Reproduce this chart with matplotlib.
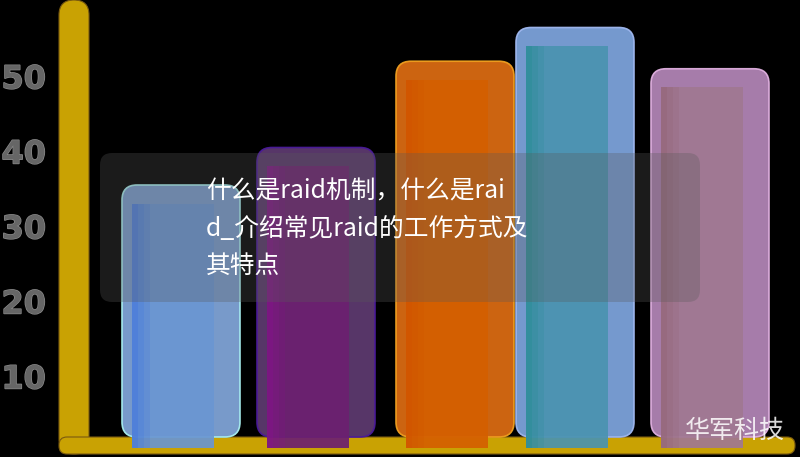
import matplotlib
matplotlib.use("Agg")
import matplotlib.pyplot as plt
from matplotlib.patches import FancyBboxPatch
import matplotlib.patheffects as pe

# data
values = [36, 41, 52.5, 57, 51.5]
ticks = [10, 20, 30, 40, 50]
title_lines = ["什么是raid机制，什么是rai", "d_介绍常见raid的工作方式及", "其特点"]
watermark = "华军科技"

# layout / style (pixel x positions, value y units: 75 px per 10)
centers = [181, 316, 455, 575, 710]
outer_w = 118
inner_w = 82
inner_shift = -8
outer_colors = ["#7fa3d6", "#5d3a6e", "#d86a12", "#7ca2da", "#b084b4"]
edge_colors = ["#a8f0f0", "#4a1a9a", "#f0a020", "#a0b8f0", "#e0b0e0"]
inner_colors = ["#6a96d2", "#6c2070", "#d45f00", "#4a93b0", "#a07892"]
shade_colors = ["#3a6ee0", "#8a1090", "#d05000", "#1e8a8c", "#906070"]
gold = "#c9a203"

PX = 7.5  # pixels per value unit
Y0 = 455  # pixel row of value 0


def vy(py):
    return (Y0 - py) / PX


fig = plt.figure(figsize=(8, 4.57), dpi=100, facecolor="black")
ax = fig.add_axes([0, 0, 1, 1])
ax.set_facecolor("black")
ax.set_xlim(0, 800)
ax.set_ylim(vy(457), vy(0))
ax.axis("off")
asp = 1 / PX

# gold axis frame
ax.add_patch(FancyBboxPatch((59, vy(454)), 30, vy(0) - vy(454),
                            boxstyle="round,pad=0,rounding_size=15", mutation_aspect=asp,
                            facecolor=gold, edgecolor="#7a5a10", linewidth=0.8, zorder=1))
ax.add_patch(FancyBboxPatch((59, vy(454)), 736, vy(437) - vy(454),
                            boxstyle="round,pad=0,rounding_size=8", mutation_aspect=asp,
                            facecolor=gold, edgecolor="#7a5a10", linewidth=0.8, zorder=1))

# bars
base = vy(437)
for c, v, oc, ec, ic, sc in zip(centers, values, outer_colors, edge_colors, inner_colors, shade_colors):
    ax.add_patch(FancyBboxPatch((c - outer_w / 2, base), outer_w, v - base,
                                boxstyle="round,pad=0,rounding_size=15", mutation_aspect=asp,
                                facecolor=oc, edgecolor=ec, linewidth=1.2, alpha=0.95, zorder=2))
    ic_x = c + inner_shift
    bottom = vy(448)
    ax.bar(ic_x, v - 2.5 - bottom, width=inner_w, bottom=bottom, color=ic, alpha=0.92, zorder=3, linewidth=0)
    for k, a in enumerate([0.55, 0.35, 0.18]):
        ax.bar(ic_x - inner_w / 2 + 3 + k * 6, v - 2.5 - bottom, width=6, bottom=bottom,
               color=sc, alpha=a, zorder=3.1, linewidth=0)

# tick labels
for t in ticks:
    ax.text(46, t, str(t), ha="right", va="center", fontsize=23, fontweight="bold",
            family="DejaVu Sans", color="#666666", zorder=5,
            path_effects=[pe.withStroke(linewidth=1.0, foreground="#8a8a8a")])

# overlay in pixel coordinates
ov = fig.add_axes([0, 0, 1, 1])
ov.set_xlim(0, 800)
ov.set_ylim(457, 0)
ov.axis("off")
ov.patch.set_alpha(0)
ov.add_patch(FancyBboxPatch((100, 153), 600, 149, boxstyle="round,pad=0,rounding_size=12",
                            facecolor="#5a5a5a", edgecolor="none", alpha=0.3, zorder=6))
for i, line in enumerate(title_lines):
    ov.text(206, 191 + i * 37.5, line, ha="left", va="center", fontsize=17.8,
            family=["Noto Sans CJK SC", "DejaVu Sans"], fontweight="light", color="white", zorder=7)
ov.text(735, 431, watermark, ha="center", va="center", fontsize=18,
        family=["Noto Sans CJK SC", "DejaVu Sans"], fontweight="light", color="white", alpha=0.85, zorder=7)

fig.savefig("out.png", dpi=100, facecolor="black")
